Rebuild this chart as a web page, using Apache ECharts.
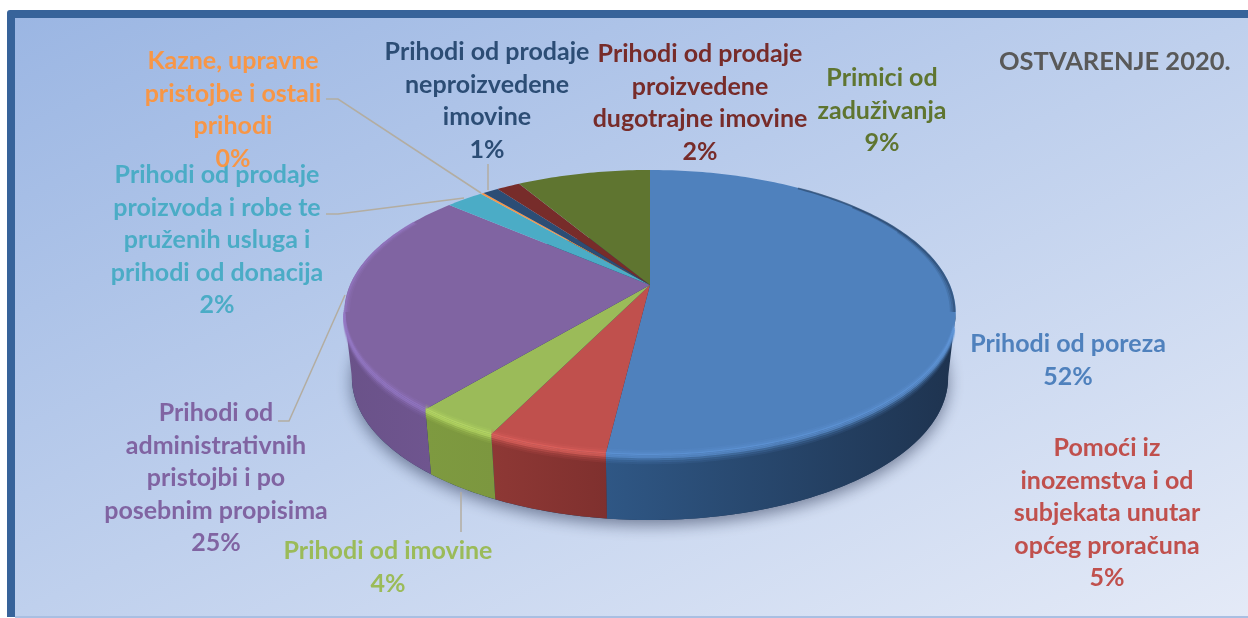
<!DOCTYPE html>
<html>
<head>
<meta charset="utf-8">
<title>Ostvarenje 2020.</title>
<script src="https://cdn.jsdelivr.net/npm/echarts@6/dist/echarts.min.js"></script>
<style>
html, body { margin: 0; padding: 0; background: #fff; }
#main { width: 1248px; height: 618px; }
</style>
</head>
<body>
<div id="main"></div>
<script>
const categories = [
	'Prihodi od poreza',
	'Pomoći iz\ninozemstva i od\nsubjekata unutar\nopćeg proračuna',
	'Prihodi od imovine',
	'Prihodi od\nadministrativnih\npristojbi i po\nposebnim propisima',
	'Prihodi od prodaje\nproizvoda i robe te\npruženih usluga i\nprihodi od donacija',
	'Kazne, upravne\npristojbe i ostali\nprihodi',
	'Prihodi od prodaje\nneproizvedene\nimovine',
	'Prihodi od prodaje\nproizvedene\ndugotrajne imovine',
	'Primici od\nzaduživanja'
];
// share of each slice
const values = [51.9, 5.3, 3.8, 25.4, 2.4, 0.2, 1.0, 1.5, 8.5];

const topColors = ['#4f81bd', '#c0504d', '#9bbb59', '#8064a2', '#4bacc6', '#f79646', '#2c4d75', '#772c2a', '#5f7530'];
const wallLeft = ['#2f5785', '#8e3835', '#7e9a40', '#6a5289', '#3a8296', '#b86f33', '#203a58', '#5a211f', '#475824'];
const wallRight = ['#1e334f', '#7f302e', '#7c973f', '#6f558f', '#3a8296', '#b86f33', '#203a58', '#5a211f', '#475824'];
const rimColors = ['#5f96d8', '#e2655f', '#b9dc66', '#9478c4', '#5cc4e0', '#ffae5a', '#3a6398', '#983a37', '#7a963e'];

// [centre x, centre y of first line]
const labelAnchors = [[1068, 344], [1107, 448], [388, 551], [216, 413], [217, 175], [233, 61], [487, 52], [700, 54], [882, 78]];
const leaders = [
	null,
	null,
	[[461, 492], [461, 532]],
	[[345, 295], [289, 421], [278, 421]],
	[[326, 214], [338, 214], [464, 198]],
	[[326, 99], [338, 99], [481, 193]],
	[[488, 164], [488, 190]],
	null,
	null
];

// perspective of the disc
const cx = 650, cy = 285, A = 300, B = 137.2, K = 0.193;
const DEPTH = 65, FOOT = 0.975, LINE = 32.5;

function rimPoint(deg) {
	const a = deg * Math.PI / 180;
	const u = Math.sin(a), v = -Math.cos(a);
	const d = 1 - K * v;
	return [A * u / d, B * v / d];
}
function arc(from, to, scale) {
	const s = scale || 1;
	const pts = [];
	const n = Math.max(2, Math.ceil(to - from));
	for (let i = 0; i <= n; i++) {
		const p = rimPoint(from + (to - from) * i / n);
		pts.push([cx + p[0] * s, cy + p[1] * s]);
	}
	return pts;
}
function footArc(from, to) {
	const pts = [];
	const n = Math.max(2, Math.ceil(to - from));
	for (let i = 0; i <= n; i++) {
		const p = rimPoint(from + (to - from) * i / n);
		pts.push([cx + p[0] * FOOT, cy + p[1] + DEPTH]);
	}
	return pts;
}
function shift(pts, dy) {
	return pts.map(function (p) { return [p[0], p[1] + dy]; });
}

const total = values.reduce(function (s, v) { return s + v; }, 0);
const starts = [];
values.reduce(function (s, v, i) { starts[i] = s; return s + v; }, 0);

function renderSlice(params, api) {
	const i = params.dataIndex;
	const value = api.value(0);
	const a0 = starts[i] / total * 360;
	const a1 = a0 + value / total * 360;
	const children = [];

	// side wall, only the front part shows
	const w0 = Math.max(a0, 101), w1 = Math.min(a1, 259);
	if (w1 > w0) {
		const rim = arc(w0, w1);
		children.push({
			type: 'polygon',
			z2: 2,
			shape: { points: rim.concat(footArc(w0, w1).reverse()) },
			style: {
				fill: new echarts.graphic.LinearGradient(0, 0, 1, 0, [
					{ offset: 0, color: wallLeft[i] },
					{ offset: 1, color: wallRight[i] }
				])
			}
		});
		// soft bevel round the rim
		[[-4, 0.12], [-2, 0.3], [0, 0.7], [2, 0.7], [4, 0.4], [6, 0.2], [8, 0.1]].forEach(function (b) {
			children.push({
				type: 'polyline',
				z2: 6,
				shape: { points: shift(arc(w0 + 6 * (i === 0 ? 1 : 0), w1), b[0]) },
				style: { fill: 'none', stroke: rimColors[i], lineWidth: 2.5, opacity: b[1] }
			});
		});
	}

	// top face
	children.push({
		type: 'polygon',
		z2: 5,
		shape: { points: [[cx, cy]].concat(arc(a0, a1)) },
		style: { fill: topColors[i] }
	});

	// dark inner edge on the back right, light one on the back left
	[[35, 0.996, 0.5], [50, 0.99, 0.3], [65, 0.984, 0.15]].forEach(function (b) {
		const s0 = Math.max(a0, b[0]), s1 = Math.min(a1, 101);
		if (s1 > s0) {
			children.push({
				type: 'polyline',
				z2: 7,
				shape: { points: arc(s0, s1, b[1]) },
				style: { fill: 'none', stroke: '#1d3350', lineWidth: 2, opacity: b[2] }
			});
		}
	});
	[[0.996, 0.7], [0.99, 0.35], [0.984, 0.15]].forEach(function (b) {
		const s0 = Math.max(a0, 259), s1 = Math.min(a1, 300);
		if (s1 > s0) {
			children.push({
				type: 'polyline',
				z2: 7,
				shape: { points: arc(s0, s1, b[0]) },
				style: { fill: 'none', stroke: rimColors[i], lineWidth: 2, opacity: b[1] }
			});
		}
	});

	if (leaders[i]) {
		children.push({
			type: 'polyline',
			z2: 8,
			shape: { points: leaders[i] },
			style: { fill: 'none', stroke: '#b3ada1', lineWidth: 1.5 }
		});
	}

	children.push({
		type: 'text',
		z2: 9,
		x: labelAnchors[i][0],
		y: labelAnchors[i][1] - LINE / 2,
		style: {
			text: categories[i] + '\n' + (value / total * 100).toFixed(0) + '%',
			fill: topColors[i],
			font: 'bold 25px Lato',
			lineHeight: LINE,
			align: 'center',
			verticalAlign: 'top'
		}
	});

	return { type: 'group', children: children };
}

function renderShadow() {
	return {
		type: 'polygon',
		z2: 1,
		shape: { points: footArc(0, 360) },
		style: {
			fill: '#22395a',
			shadowBlur: 16,
			shadowOffsetY: 5,
			shadowColor: 'rgba(20,30,60,0.5)'
		}
	};
}

const myChart = echarts.init(document.getElementById('main'), null, { renderer: 'canvas' });

myChart.setOption({
	animation: false,
	backgroundColor: '#fff',
	title: {
		text: 'OSTVARENJE 2020.',
		left: 994,
		top: 44,
		textStyle: { color: '#595959', fontFamily: 'Lato', fontWeight: 'bold', fontSize: 25.5 }
	},
	graphic: [
		{
			type: 'rect',
			z: -10,
			shape: { x: 7, y: 10, width: 1241, height: 607, r: [3, 0, 0, 0] },
			style: { fill: '#37639a' }
		},
		{
			type: 'rect',
			z: -9,
			shape: { x: 15, y: 18, width: 1233, height: 599 },
			style: {
				fill: new echarts.graphic.LinearGradient(15, 18, 482, 988, [
					{ offset: 0, color: '#9bb6e3' },
					{ offset: 0.5, color: '#bfd0ed' },
					{ offset: 1, color: '#e4eaf7' }
				], true)
			}
		},
		{
			type: 'rect',
			z: -8,
			shape: { x: 15, y: 616, width: 1233, height: 2 },
			style: { fill: '#a9bfe2' }
		}
	],
	series: [
		{
			type: 'custom',
			coordinateSystem: 'none',
			silent: true,
			z: 2,
			data: [0],
			renderItem: renderShadow
		},
		{
			type: 'custom',
			coordinateSystem: 'none',
			silent: true,
			z: 3,
			data: values,
			renderItem: renderSlice
		}
	]
});
</script>
</body>
</html>
